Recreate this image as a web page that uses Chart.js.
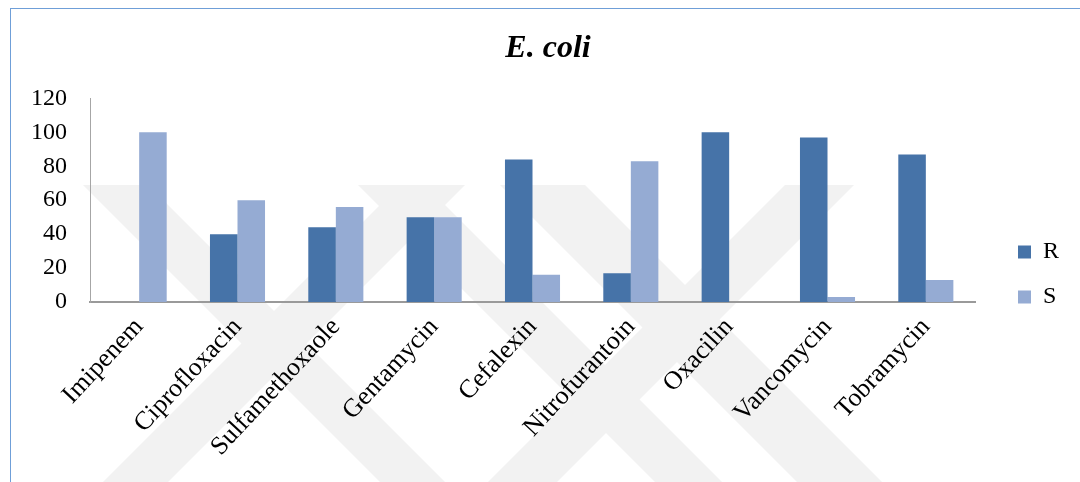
<!DOCTYPE html>
<html>
<head>
<meta charset="utf-8">
<title>E. coli</title>
<script src="https://cdn.jsdelivr.net/npm/chart.js@4.4.1/dist/chart.umd.min.js"></script>
<style>
  html, body { margin: 0; padding: 0; background: #ffffff; }
  #wrap { position: relative; width: 1080px; height: 482px; overflow: hidden; }
  #wrap canvas { position: absolute; left: 0; top: 0; }
  #frame {
    position: absolute; left: 10px; top: 8px; width: 1120px; height: 520px;
    border: 1.5px solid #6f9fd8; box-sizing: border-box; pointer-events: none;
  }
</style>
</head>
<body>
<div id="wrap">
  <canvas id="chart" width="1080" height="482"></canvas>
  <div id="frame"></div>
</div>
<script>
// Antibiotics tested
const categories = ['Imipenem', 'Ciprofloxacin', 'Sulfamethoxaole', 'Gentamycin', 'Cefalexin',
                    'Nitrofurantoin', 'Oxacilin', 'Vancomycin', 'Tobramycin'];
// Series names: resistant / susceptible (%)
const seriesNames = ['R', 'S'];
const resistantValues   = [0, 40, 44, 50, 84, 17, 100, 97, 87];
const susceptibleValues = [100, 60, 56, 50, 16, 83, 0, 3, 13];
// Value axis ticks
const yTickValues = [0, 20, 40, 60, 80, 100, 120];

const SERIF = "'Liberation Serif', 'Times New Roman', serif";
const COLORS = ['#4673a8', '#95abd3'];

// Faint diagonal background stripes: '\\' strips cover x - y in [c0, c1], '/' strips x + y in [c0, c1]
const stripes = [
  ['\\', -102, -37], ['/', 585, 650], ['\\', 173, 240], ['/', 970, 1039], ['\\', 315, 400]
];
const STRIPE_TOP = 185;

const backdrop = {
  id: 'backdrop',
  beforeDraw(chart) {
    const { ctx, height } = chart;
    ctx.save();
    ctx.fillStyle = '#f2f2f2';
    const y0 = STRIPE_TOP, y1 = height;
    stripes.forEach(([dir, c0, c1]) => {
      ctx.beginPath();
      if (dir === '\\') {
        ctx.moveTo(c0 + y0, y0); ctx.lineTo(c1 + y0, y0);
        ctx.lineTo(c1 + y1, y1); ctx.lineTo(c0 + y1, y1);
      } else {
        ctx.moveTo(c0 - y0, y0); ctx.lineTo(c1 - y0, y0);
        ctx.lineTo(c1 - y1, y1); ctx.lineTo(c0 - y1, y1);
      }
      ctx.closePath();
      ctx.fill();
    });
    ctx.restore();
  }
};

// Legend keeps a fixed column on the right; its entries sit lower and indented
const LEGEND_WIDTH = 105;
const LEGEND_INDENT = 22;
const LEGEND_TOP = 219;

const legendPlacement = {
  id: 'legendPlacement',
  beforeLayout(chart) {
    const lg = chart.legend;
    if (lg && !lg._fixedWidth) {
      const fit = lg.fit;
      lg.fit = function () { fit.call(this); this.width = LEGEND_WIDTH; };
      lg._fixedWidth = true;
    }
  },
  afterLayout(chart) {
    const lg = chart.legend;
    if (!lg) return;
    const h = lg.bottom - lg.top;
    lg.left += LEGEND_INDENT; lg.right += LEGEND_INDENT;
    lg.top = LEGEND_TOP; lg.bottom = LEGEND_TOP + h;
  }
};

new Chart(document.getElementById('chart'), {
  type: 'bar',
  data: {
    labels: categories,
    datasets: [
      { label: seriesNames[0], data: resistantValues, backgroundColor: COLORS[0], borderWidth: 0 },
      { label: seriesNames[1], data: susceptibleValues, backgroundColor: COLORS[1], borderWidth: 0 }
    ]
  },
  options: {
    responsive: false,
    animation: false,
    devicePixelRatio: 1,
    categoryPercentage: 0.56,
    barPercentage: 1.0,
    layout: { padding: { left: 16, right: 0, top: 0, bottom: 0 } },
    plugins: {
      title: {
        display: true,
        text: 'E. coli',
        color: '#000000',
        font: { family: SERIF, size: 32, weight: 'bold', style: 'italic', lineHeight: 1.2 },
        padding: { top: 30, bottom: 30 }
      },
      legend: {
        position: 'right',
        align: 'start',
        labels: {
          boxWidth: 13, boxHeight: 13, padding: 21, color: '#000000',
          font: { family: SERIF, size: 24 }
        }
      },
      tooltip: { enabled: false }
    },
    scales: {
      x: {
        grid: { display: false, drawTicks: false },
        border: { display: true, color: '#9a9a9a', width: 2 },
        ticks: {
          color: '#000000', font: { family: SERIF, size: 26 },
          minRotation: 47, maxRotation: 47, autoSkip: false, padding: 10
        },
        afterFit(scale) { scale.height = 180; }
      },
      y: {
        min: 0, max: 120,
        grid: { display: false, drawTicks: false },
        border: { display: true, color: '#a6a6a6', width: 1 },
        ticks: { color: '#000000', font: { family: SERIF, size: 24 }, padding: 23 },
        afterBuildTicks(scale) { scale.ticks = yTickValues.map(v => ({ value: v })); },
        afterFit(scale) { scale.width = 74; }
      }
    }
  },
  plugins: [backdrop, legendPlacement]
});
</script>
</body>
</html>
